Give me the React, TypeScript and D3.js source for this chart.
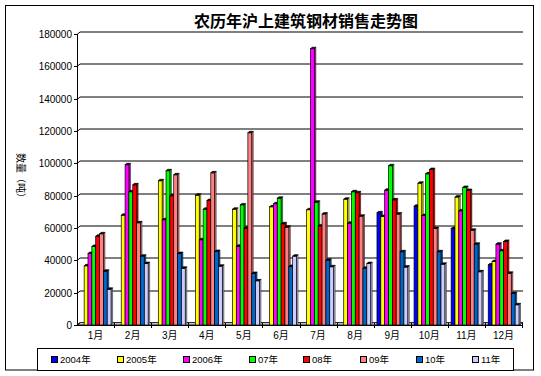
import React from 'react';
import * as d3 from 'd3';

const months = ['1月', '2月', '3月', '4月', '5月', '6月', '7月', '8月', '9月', '10月', '11月', '12月'];
const seriesNames = ['2004年', '2005年', '2006年', '07年', '08年', '09年', '10年', '11年'];
const seriesColors = ['#0000FF', '#FFFF00', '#FF00FF', '#00FF00', '#FF0000', '#FF8080', '#0066CC', '#CCCCFF'];
const yTicks = [0, 20000, 40000, 60000, 80000, 100000, 120000, 140000, 160000, 180000];

const s2004 = [null, null, null, null, null, null, null, null, 69400, 73500, 59700, 37200];
const s2005 = [36600, 67900, 89200, 80300, 71600, 73100, 71300, 77800, 67100, 87700, 79100, 39300];
const s2006 = [44200, 99100, 65100, 52700, 48700, 75000, 170900, 63000, 83400, 67700, 70600, 50000];
const s07 = [48600, 82400, 95400, 71600, 74300, 78400, 76000, 82400, 98500, 93500, 85100, 45900];
const s08 = [54900, 86700, 79900, 77000, 59900, 62600, 61300, 81800, 77400, 96200, 83200, 51700];
const s09 = [56400, 63200, 92900, 94100, 118900, 60500, 68600, 67300, 68600, 59700, 58600, 32000];
const s10 = [33300, 42600, 44200, 45500, 31900, 36200, 40100, 35100, 45300, 45300, 50000, 19500];
const s11 = [22100, 38000, 35100, 36400, 27300, 42600, 36000, 38000, 35800, 37600, 32900, 12500];

const allSeries: (number | null)[][] = [s2004, s2005, s2006, s07, s08, s09, s10, s11];

const FONT = "'Liberation Sans', Arial, 'Noto Sans CJK SC', sans-serif";
const CJK = "'Noto Sans CJK SC', 'Liberation Sans', sans-serif";

export default function App() {
  const W = 541, H = 376;
  const x0 = 77, x1 = 522, yBase = 325, yTop = 34;
  const dx = 3, dy = 2.5;
  const y = d3.scaleLinear().domain([0, 180000]).range([yBase, yTop]);
  const xBand = d3.scaleBand<string>().domain(months).range([x0, x1]).paddingInner(0).paddingOuter(0);
  const bw = xBand.bandwidth();
  const inner = d3.scaleBand<string>().domain(seriesNames).range([3.3, bw - 3]).padding(0);
  const w = inner.bandwidth();
  const cap = 1.5;

  const legendX = [51, 117, 183, 249, 303, 360, 416, 472];

  return (
    <svg width={W} height={H} style={{ position: 'absolute', left: 0, top: 0, background: '#fff' }}>
      <rect x={0} y={0} width={W} height={H} fill="#fff" />
      <rect x={5.5} y={5.5} width={528} height={364.5} fill="none" stroke="#000" strokeWidth={1} />
      <text x={306} y={27} textAnchor="middle" fontFamily={CJK} fontWeight="bold" fontSize={16} fill="#000">
        农历年沪上建筑钢材销售走势图
      </text>

      {/* floor */}
      <polygon
        points={`${x0},${yBase} ${x0 + dx},${yBase - dy} ${x1 + 1},${yBase - dy} ${x1 - 2},${yBase}`}
        fill="#c0c0c0"
        stroke="#000"
        strokeWidth={0.8}
      />

      {/* gridlines & ticks */}
      {yTicks.map((t) => {
        const yy = Math.round(y(t)) + 0.5;
        return (
          <g key={t}>
            {t > 0 && (
              <line x1={x0 + dx} x2={x1 + 1} y1={yy - dy} y2={yy - dy} stroke="#000" strokeWidth={1} />
            )}
            <line x1={x0 - 3} x2={x0} y1={yy} y2={yy} stroke="#000" strokeWidth={1} />
            <line x1={x0} x2={x0 + dx} y1={yy} y2={yy - dy} stroke="#000" strokeWidth={1} />
            <text x={72} y={yy} dy="0.35em" textAnchor="end" fontFamily={FONT} fontSize={10} fill="#000">
              {t}
            </text>
          </g>
        );
      })}
      <line x1={x0 + 0.5} x2={x0 + 0.5} y1={yTop} y2={yBase} stroke="#000" strokeWidth={1} />
      <line x1={x0} x2={x1} y1={yBase + 0.5} y2={yBase + 0.5} stroke="#000" strokeWidth={1} />

      {/* category ticks */}
      {months.map((m, i) => {
        const xx = Math.round((xBand(m) as number) + bw) + 0.5;
        return <line key={'ct' + i} x1={xx} x2={xx} y1={yBase - 2} y2={yBase + 3} stroke="#000" strokeWidth={1} />;
      })}

      {/* bars */}
      {months.map((m, mi) => (
        <g key={m}>
          {allSeries.map((s, si) => {
            const v = s[mi];
            if (v == null) return null;
            const bx = (xBand(m) as number) + (inner(seriesNames[si]) as number);
            const by = y(v);
            const col = seriesColors[si];
            const dark = d3.color(col)!.darker(0.35).toString();
            return (
              <g key={si}>
                <polygon
                  points={`${bx + w},${by} ${bx + w + cap},${by - cap} ${bx + w + cap},${yBase - cap} ${bx + w},${yBase}`}
                  fill={dark}
                  stroke="#000"
                  strokeWidth={0.5}
                />
                <rect x={bx} y={by} width={w} height={yBase - by} fill={col} stroke="#000" strokeWidth={0.7} />
                <polygon
                  points={`${bx},${by} ${bx + cap},${by - cap} ${bx + w + cap},${by - cap} ${bx + w},${by}`}
                  fill="#000"
                  stroke="#000"
                  strokeWidth={0.6}
                />
              </g>
            );
          })}
        </g>
      ))}

      {/* month labels */}
      {months.map((m) => (
        <text
          key={'l' + m}
          x={(xBand(m) as number) + bw / 2}
          y={339}
          textAnchor="middle"
          fontFamily={FONT}
          fontSize={10}
          fill="#000"
        >
          {m}
        </text>
      ))}

      {/* y axis title */}
      <text
        transform={`translate(17,178) rotate(90)`}
        textAnchor="middle"
        fontFamily={CJK}
        fontSize={10}
        fill="#000"
      >
        数量（吨）
      </text>

      {/* legend */}
      <rect x={37.5} y={348.5} width={476} height={22} fill="#fff" stroke="#000" strokeWidth={1} />
      {seriesNames.map((n, i) => (
        <g key={'lg' + n}>
          <rect x={legendX[i] + 0.5} y={356.5} width={6} height={6} fill={seriesColors[i]} stroke="#000" strokeWidth={1} />
          <text x={legendX[i] + 9} y={359.5} dy="0.35em" fontFamily={FONT} fontSize={9.5} fill="#000">
            {n}
          </text>
        </g>
      ))}
    </svg>
  );
}
